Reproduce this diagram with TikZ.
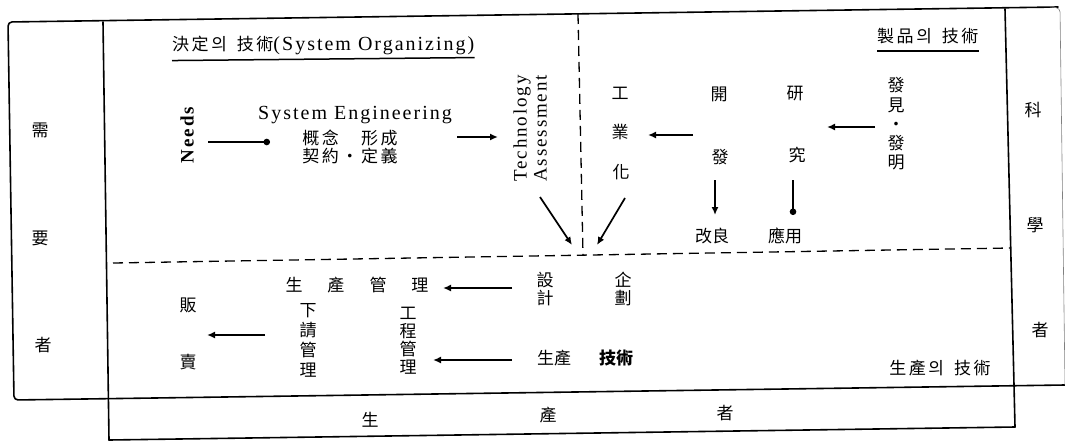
\documentclass[tikz,border=0pt]{standalone}
\usepackage{fontspec}
\setmainfont{Liberation Serif}
\newfontfamily\cjk{Noto Sans CJK TC}
\newfontfamily\cjks[LetterSpace=15]{Noto Sans CJK TC}
\newfontfamily\lat[LetterSpace=10]{Liberation Serif}
\usetikzlibrary{arrows.meta,calc}
\tikzset{
  frame/.style={line width=1.6pt, line cap=round, line join=round},
  dashline/.style={line width=1.3pt, dash pattern=on 10pt off 6pt},
  uline/.style={line width=1.5pt},
  arr/.style={line width=1.7pt, -{Latex[length=8pt,width=7pt]}},
  dotarr/.style={line width=1.7pt, -{Circle[length=6.5pt]}},
  cj/.style={font=\cjk\fontsize{17}{18}\selectfont, inner sep=0pt, align=center},
  cjs/.style={font=\cjks\fontsize{17}{18}\selectfont, inner sep=0pt},
  lt/.style={font=\lat\fontsize{20}{20}\selectfont, inner sep=0pt},
}
\begin{document}
\begin{tikzpicture}[x=1pt,y=-1pt]
\fill[white] (0,0) rectangle (1065,442);
\useasboundingbox (0,0) rectangle (1065,442);

% ---------- frame ----------
\draw[frame, rounded corners=4pt] (1065,385) -- (14,400) -- (8,22) -- (1058,7);
\draw[line width=0.6pt, gray, rounded corners=4pt] (1050,7) -- (1060,8) -- (1065,385);
\draw[frame] (103,22) -- (109,440);
\draw[frame] (1005,9) -- (1015,427);
\draw[frame] (109,440) -- (1015,427);

% ---------- dashed dividers ----------
\coordinate (j) at (583,255);
\draw[dashline] (578,14) -- (j);
\draw[dashline] (113,263) -- (1010,248);

% ---------- side columns ----------
\node[cj] (xu)   at (40,130) {需};
\node[cj] (yao)  at (40,238) {要};
\node[cj] (zhe)  at (43,345) {者};
\node[cj] (ke)   at (1033,110) {科};
\node[cj] (xue)  at (1035,225) {學};
\node[cj] (zhe2) at (1040,330) {者};
\node[cj] (sheng) at (370,420) {生};
\node[cj] (chan)  at (548,415) {產};
\node[cj] (zhe3)  at (725,413) {者};

% ---------- headings ----------
\node[inner sep=0pt, anchor=west] (h1) at (172,45)
  {{\cjks\fontsize{17}{18}\selectfont 決定의\hspace{10pt}技術}{\lat\fontsize{20}{20}\selectfont(System Organizing)}};
\draw[uline] ([yshift=-6pt]h1.south west) -- ([yshift=-3pt]h1.south east);
\node[cjs, anchor=west] (h2) at (877,36) {製品의\hspace{10pt}技術};
\draw[uline] ([yshift=-7pt]h2.south west) -- ([yshift=-7pt]h2.south east);

% ---------- upper left ----------
\node[lt, font=\lat\bfseries\fontsize{19}{20}\selectfont, rotate=90] (needs) at (187,135) {Needs};
\node[lt] (se) at (355,115) {System Engineering};
\node[cjs] (se1) at (350,138) {概念\hspace{22pt}形成};
\node[cjs] (se2) at (350,156) {契約・定義};
\node[lt, font=\lat\fontsize{19}{20}\selectfont, rotate=90, anchor=west, align=left] (ta) at (530,182) {Technology\\Assessment};

% ---------- upper right ----------
\node[cj] (gong) at (620,93) {工};
\node[cj] (ye)   at (620,132) {業};
\node[cj] (hua)  at (621,172) {化};
\node[cj] (kai)  at (719,94) {開};
\node[cj] (fa1)  at (720,157) {發};
\node[cj] (yan)  at (795,94) {研};
\node[cj] (jiu)  at (797,155) {究};
\node[cj] (gailiang) at (712,236) {改良};
\node[cj] (yingyong) at (785,236) {應用};
\node[cj, font=\cjk\fontsize{17}{19.25}\selectfont] (faming) at (896,124) {發\\見\\・\\發\\明};

% ---------- lower part ----------
\node[cj] (scgl) at (357,285) {生\hspace{25pt}產\hspace{25pt}管\hspace{25pt}理};
\node[cj] (she) at (545,289) {設\\計};
\node[cj] (qi)  at (623,289) {企\\劃};
\node[cj] (fan) at (188,305) {販};
\node[cj] (mai) at (188,362) {賣};
\node[cj, font=\cjk\fontsize{17}{20}\selectfont] (xiaqing) at (308,340) {下\\請\\管\\理};
\node[cj] (gongcheng) at (408,341) {工\\程\\管\\理};
\node[cj] (scjs) at (585,358) {生產\hspace{28pt}{\bfseries 技術}};
\node[cjs] (br) at (940,368) {生產의\hspace{10pt}技術};

% ---------- connectors ----------
\draw[dotarr] ($(needs)+(21,7)$) -- ($(se1)+(-80,4)$);
\draw[arr] ($(se1)+(107,-1)$) -- ($(ta.west)+(-32,-45)$);
\draw[arr] ($(ta.west)+(10,15)$) -- ($(j)+(-11,-10)$);
\draw[arr] ($(hua)+(4,26)$) -- ($(j)+(14,-10)$);
\draw[arr] ($(kai)+(-26,41)$) -- ($(ye)+(28,3)$);
\draw[arr] ($(faming)+(-21,3)$) -- ($(yan)+(32,33)$);
\draw[arr] ($(fa1)+(-5,23)$) -- ($(gailiang)+(3,-21)$);
\draw[dotarr] ($(jiu)+(-4,25)$) -- ($(yingyong)+(8,-21)$);
\draw[arr] ($(she)+(-33,-1)$) -- ($(scgl)+(86,3)$);
\draw[arr] ($(xiaqing)+(-43,-5)$) -- ($(fan)+(19,30)$);
\draw[arr] ($(scjs)+(-73,2)$) -- ($(gongcheng)+(25,19)$);
\end{tikzpicture}
\end{document}
